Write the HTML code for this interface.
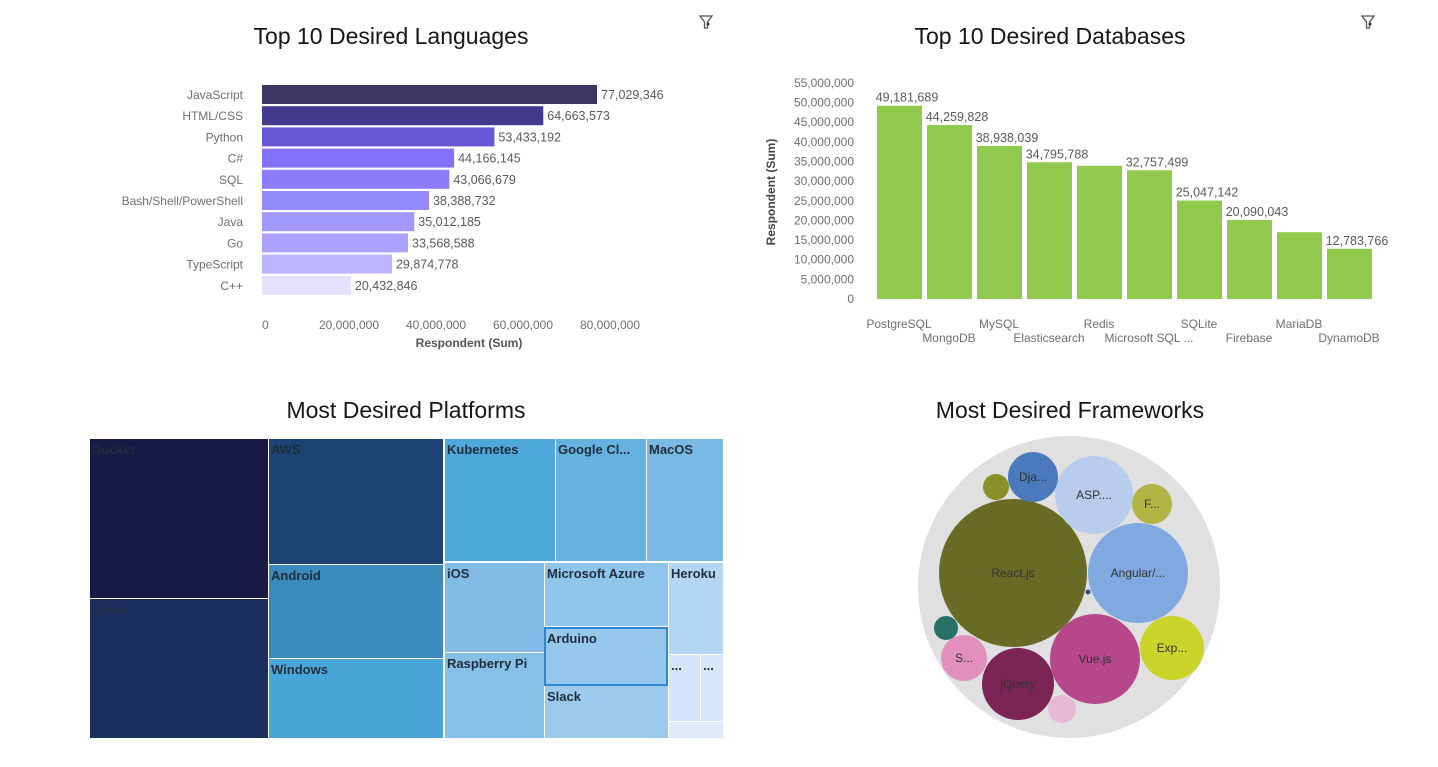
<!DOCTYPE html>
<html><head><meta charset="utf-8">
<style>
body{margin:0;width:1438px;height:767px;background:#fff;overflow:hidden;font-family:"Liberation Sans",sans-serif;}
svg{position:absolute;left:0;top:0}
.t{font-size:23px;fill:#161616}
.lab{font-size:12px;fill:#6f6f6f}
.val{font-size:12.5px;fill:#5a5a5a}
.tm{font-size:13px;font-weight:bold;fill:#1f2d3d}
.bb{font-size:12px;fill:#333}
</style></head><body>
<svg id="s" width="1438" height="767">
<text class="t" x="391" y="44" text-anchor="middle">Top 10 Desired Languages</text>
<text class="t" x="1050" y="44" text-anchor="middle">Top 10 Desired Databases</text>
<text class="t" x="406" y="418" text-anchor="middle">Most Desired Platforms</text>
<text class="t" x="1070" y="418" text-anchor="middle">Most Desired Frameworks</text>
<g transform="translate(699,15)"><path d="M1 1h12l-4.5 6v6h-3v-6z" fill="none" stroke="#555" stroke-width="1.3"/><circle cx="9" cy="9" r="1.5" fill="#333"/></g>
<g transform="translate(1361,15)"><path d="M1 1h12l-4.5 6v6h-3v-6z" fill="none" stroke="#555" stroke-width="1.3"/><circle cx="9" cy="9" r="1.5" fill="#333"/></g>
<g id="lang"></g>
<g id="db"></g>
<g id="tm"></g>
<g id="bub"></g>
</svg>
<script>
const NS="http://www.w3.org/2000/svg";
function mk(p,tag,a,txt){const e=document.createElementNS(NS,tag);for(const k in a)e.setAttribute(k,a[k]);if(txt!==undefined)e.textContent=txt;p.appendChild(e);return e;}
const fmt=v=>v.toLocaleString('en-US');

// Languages
const langCats=["JavaScript","HTML/CSS","Python","C#","SQL","Bash/Shell/PowerShell","Java","Go","TypeScript","C++"];
const langVals=[77029346,64663573,53433192,44166145,43066679,38388732,35012185,33568588,29874778,20432846];
const langTicks=[0,20000000,40000000,60000000,80000000];
const langColors=["#3c3660","#423a8f","#6756d6","#8370fb","#8a7cfb","#958afa","#a199fb","#aaa2fc","#bcb4fd","#e5e0fd"];
const lx=v=>262+v*4.35e-6, ly=i=>85+i*21.2;
const L=document.getElementById('lang');
langCats.forEach((c,i)=>{
 let r=mk(L,'rect',{x:262,y:ly(i),width:lx(langVals[i])-262,height:19,fill:langColors[i]});
 
 
 let t=mk(L,'text',{class:'lab',x:243,y:ly(i)+14,'text-anchor':'end'},c);
 
 
 let v=mk(L,'text',{class:'val',x:lx(langVals[i])+4,y:ly(i)+14},fmt(langVals[i]));
 
 
});
langTicks.forEach(t=>{let e=mk(L,'text',{class:'lab',x:lx(t),y:329,'text-anchor':t?'middle':'start'},fmt(t));
 
 });
let xt=mk(L,'text',{x:469,y:347,'text-anchor':'middle','font-size':12,'font-weight':'bold',fill:'#555'},'Respondent (Sum)');



// Databases
const dbCats=["PostgreSQL","MongoDB","MySQL","Elasticsearch","Redis","Microsoft SQL ...","SQLite","Firebase","MariaDB","DynamoDB"];
const dbVals=[49181689,44259828,38938039,34795788,33900000,32757499,25047142,20090043,17000000,12783766];
const dbShow=[1,1,1,1,0,1,1,1,0,1];
const dbTicks=[0,5e6,10e6,15e6,20e6,25e6,30e6,35e6,40e6,45e6,50e6,55e6];
const dy=v=>299-v*3.93e-6, dx=i=>877+i*50;
const D=document.getElementById('db');
dbTicks.forEach(t=>{let e=mk(D,'text',{class:'lab',x:854,y:dy(t)+4,'text-anchor':'end'},fmt(t));
 
 });
dbCats.forEach((c,i)=>{
 let r=mk(D,'rect',{x:dx(i),y:dy(dbVals[i]),width:45,height:299-dy(dbVals[i]),fill:'#91c94d'});
 
 
 let t=mk(D,'text',{class:'lab',x:dx(i)+22,y:i%2?342:328,'text-anchor':'middle'},c);
 
 
 if(dbShow[i]){let v=mk(D,'text',{class:'val',x:dx(i)+30,y:dy(dbVals[i])-4,'text-anchor':'middle'},fmt(dbVals[i]));
 
 }
});
let yt=mk(D,'text',{x:0,y:0,'font-size':12,'font-weight':'bold',fill:'#444','text-anchor':'middle',transform:'translate(775,192) rotate(-90)'},'Respondent (Sum)');



// Treemap
const tmNames=["Docker","Linux","AWS","Android","Windows","Kubernetes","Google Cl...","MacOS","iOS","Raspberry Pi","Microsoft Azure","Arduino","Slack","Heroku","...","...",""];
const tmRects=[[90,439,178,159],[90,599,178,139],[269,439,174,125],[269,565,174,93],[269,659,174,79],[445,439,110,122],[556,439,90,122],[647,439,76,122],[445,563,99,89],[445,653,99,85],[545,563,123,63],[545,628,123,58],[545,686,123,52],[669,563,54,91],[669,655,31,66],[701,655,22,66],[669,722,54,16]];
const tmColors=["#191a46","#1b2f5e","#1b4474","#3a8abd","#47a5d8","#4ea8da","#65b2df","#7ab9e4","#81bbe6","#86c0e7","#8fc5ea","#96c8ee","#9ccaee","#b4d6f4","#d5e4fa","#d8e6fa","#e0e9fb"];
const T=document.getElementById('tm');
tmNames.forEach((n,i)=>{const [x,y,w,h]=tmRects[i];
 let r=mk(T,'rect',{x:x,y:y,width:w,height:h,fill:tmColors[i]});
 
 
 if(n){let t=mk(T,'text',{class:'tm',x:x+2,y:y+15},n);
 
 }
});
mk(T,'rect',{x:545,y:628,width:122,height:57,fill:'none',stroke:'#2f86d2','stroke-width':2});

// Bubbles
const bubNames=["React.js","Angular/...","ASP....","Dja...","","F...","Exp...","Vue.js","jQuery","S...","","",""];
const bubSizes=[74,50,39,25,13,20,32,45,36,23,12,14,2.5];
const bubPos=[[1013,573],[1138,573],[1094,495],[1033,477],[996,487],[1152,504],[1172,648],[1095,659],[1018,684],[964,658],[946,628],[1062,709],[1088,592]];
const bubColors=["#676b25","#80a9e0","#b8ccec","#4b79bd","#8a9028","#b1b544","#cbd42b","#b5478a","#7a2555","#e190bd","#297068","#e8b9d2","#2a4f7c"];
const B=document.getElementById('bub');
mk(B,'circle',{cx:1069,cy:587,r:151,fill:'#e0e0e0'});
bubNames.forEach((n,i)=>{
 let c=mk(B,'circle',{cx:bubPos[i][0],cy:bubPos[i][1],r:bubSizes[i],fill:bubColors[i]});
 
 
 if(n){let t=mk(B,'text',{class:'bb',x:bubPos[i][0],y:bubPos[i][1]+4,'text-anchor':'middle'},n);
 
 }
});
</script>
</body></html>
